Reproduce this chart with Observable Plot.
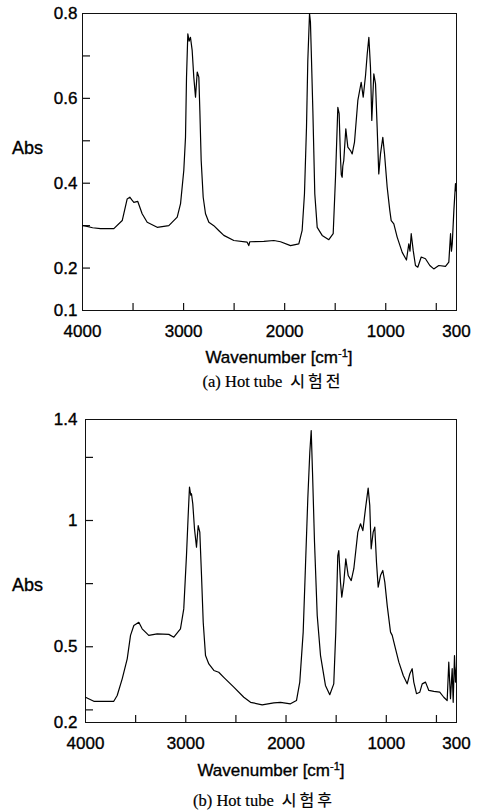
<!DOCTYPE html>
<html>
<head>
<meta charset="utf-8">
<script src="https://cdn.jsdelivr.net/npm/d3@7"></script>
<script src="https://cdn.jsdelivr.net/npm/@observablehq/plot@0.6"></script>
<style>
  html, body { margin: 0; padding: 0; background: white; }
  #wrap { position: relative; width: 478px; height: 811px; overflow: hidden; background: white; }
  .abs { position: absolute; font-family: "Liberation Sans", Arial, sans-serif; font-size: 18px; color: #000; line-height: 1; transform: translate(0, -50%); -webkit-text-stroke: 0.35px #000; }
  .xl { position: absolute; font-family: "Liberation Sans", Arial, sans-serif; font-size: 17px; color: #000; line-height: 1; transform: translate(-50%, -50%); white-space: nowrap; -webkit-text-stroke: 0.35px #000; }
  .xl sup { font-size: 11px; vertical-align: 6px; line-height: 0; }
  .cap { position: absolute; font-family: "Liberation Serif", "Times New Roman", serif; font-size: 16.5px; color: #000; line-height: 1; transform: translate(-50%, -50%); white-space: nowrap; -webkit-text-stroke: 0.2px #000; }
  .cap .ko { font-family: "Noto Sans CJK KR", sans-serif; font-size: 16px; letter-spacing: 3px; margin-left: 8px; }
  svg { position: absolute; left: 0; }
  svg text { stroke: #000; stroke-width: 0.35px; }
</style>
</head>
<body>
<div id="wrap"></div>
<script>
// ---- tick arrays ----
const xTickLabels = [4000, 3000, 2000, 1000, 300];
const xTickMarks = [3500, 3000, 2500, 2000, 1500, 1000, 500];
const yLabelsA = [0.1, 0.2, 0.4, 0.6, 0.8];
const yMarksA = [0.2, 0.3, 0.4, 0.5, 0.6, 0.7];
const yLabelsB = [0.2, 0.5, 1, 1.4];
const yMarksB = [0.25, 0.5, 0.75, 1, 1.25];

// ---- spectrum (a) before test ----
const wnA = [4000,3987,3900,3822,3690,3607,3558,3532,3510,3492,3453,3410,3360,3261,3146,3063,3030,2998,2981,2971,2958,2945,2932,2915,2899,2882,2865,2849,2839,2826,2806,2783,2750,2701,2650,2602,2503,2371,2355,2345,2206,2107,2041,1942,1860,1827,1804,1784,1771,1754,1745,1737,1721,1702,1678,1629,1563,1520,1497,1474,1461,1448,1440,1431,1425,1415,1395,1375,1349,1332,1309,1276,1243,1223,1200,1183,1167,1151,1138,1118,1101,1085,1069,1052,1029,1012,986,960,946,920,887,837,795,772,760,748,728,706,683,649,607,564,525,475,409,376,359,350,342,326,310,300];
const absA = [0.300,0.300,0.295,0.293,0.293,0.312,0.363,0.367,0.360,0.355,0.357,0.328,0.308,0.296,0.300,0.320,0.352,0.430,0.508,0.650,0.752,0.735,0.744,0.713,0.650,0.603,0.662,0.650,0.571,0.454,0.367,0.328,0.308,0.300,0.288,0.277,0.265,0.261,0.253,0.262,0.263,0.265,0.262,0.253,0.257,0.289,0.375,0.532,0.689,0.800,0.780,0.713,0.571,0.375,0.296,0.277,0.267,0.281,0.414,0.579,0.564,0.461,0.420,0.414,0.440,0.454,0.528,0.485,0.477,0.469,0.497,0.595,0.638,0.603,0.654,0.705,0.744,0.673,0.548,0.658,0.634,0.532,0.422,0.469,0.508,0.469,0.391,0.336,0.312,0.304,0.273,0.237,0.219,0.257,0.240,0.281,0.241,0.206,0.202,0.226,0.222,0.206,0.198,0.206,0.204,0.214,0.281,0.240,0.257,0.336,0.399,0.380];

// ---- spectrum (b) after test ----
const wnB = [4000,3917,3718,3684,3634,3584,3551,3518,3468,3435,3369,3285,3169,3119,3053,3020,2993,2976,2963,2950,2943,2930,2913,2893,2876,2860,2843,2826,2803,2770,2720,2671,2621,2521,2421,2354,2238,2122,2055,1956,1896,1863,1829,1806,1783,1763,1749,1736,1716,1689,1656,1607,1564,1524,1504,1484,1474,1457,1444,1424,1404,1380,1350,1324,1284,1257,1234,1208,1181,1165,1151,1131,1115,1098,1081,1058,1035,1015,991,958,941,908,875,831,792,765,742,726,699,666,642,609,576,526,467,427,393,377,360,343,333,320,310,300];
const absB = [0.300,0.284,0.284,0.307,0.373,0.452,0.545,0.584,0.597,0.571,0.545,0.551,0.549,0.538,0.571,0.650,0.861,1.020,1.132,1.100,1.106,1.066,0.967,0.894,0.980,0.954,0.782,0.597,0.465,0.432,0.406,0.399,0.379,0.340,0.300,0.280,0.270,0.278,0.280,0.274,0.287,0.360,0.558,0.822,1.086,1.270,1.356,1.191,0.914,0.624,0.465,0.347,0.310,0.353,0.558,0.861,0.881,0.756,0.696,0.756,0.848,0.782,0.762,0.809,0.954,0.987,0.960,1.046,1.128,1.060,0.888,0.954,0.974,0.835,0.736,0.782,0.802,0.756,0.663,0.558,0.545,0.492,0.439,0.386,0.353,0.393,0.413,0.360,0.314,0.320,0.353,0.360,0.327,0.323,0.320,0.300,0.287,0.439,0.294,0.413,0.280,0.465,0.360,0.420];

const dataA = wnA.map((w, i) => ({w, a: absA[i]}));
const dataB = wnB.map((w, i) => ({w, a: absB[i]}));

function chart({data, yDomain, yLabels, yMarks, marginLeft, height, marginTop, marginBottom, yPad}) {
  const marginRight = 22;
  const innerH = height - marginTop - marginBottom;
  const innerW = 478 - marginLeft - marginRight;
  return Plot.plot({
    width: 478,
    height,
    marginTop, marginBottom, marginLeft, marginRight,
    x: {domain: [4000, 300]},
    y: {domain: yDomain},
    style: {fontFamily: "'Liberation Sans', Arial, sans-serif", fontSize: "17px", color: "black", background: "white", overflow: "visible"},
    marks: [
      Plot.frame({stroke: "#111", strokeWidth: 1}),
      Plot.ruleX(xTickMarks, {x: d => d, insetTop: innerH - 7, stroke: "#111", strokeWidth: 1.2}),
      Plot.ruleY(yMarks, {y: d => d, insetRight: innerW - 8, stroke: "#111", strokeWidth: 1.2}),
      Plot.axisX(xTickLabels, {tickSize: 0, tickPadding: 14, label: null, tickFormat: d => String(d), fontSize: 17}),
      Plot.axisY(yLabels, {tickSize: 0, tickPadding: yPad, label: null, tickFormat: d => String(d), fontSize: 17}),
      Plot.line(data, {x: "w", y: "a", stroke: "#000", strokeWidth: 1.2, clip: true})
    ]
  });
}

const wrap = document.getElementById("wrap");

const svgA = chart({data: dataA, yDomain: [0.1, 0.8], yLabels: yLabelsA, yMarks: yMarksA, marginLeft: 82, height: 345, marginTop: 13, marginBottom: 35, yPad: 5});
svgA.style.top = "0px";
wrap.appendChild(svgA);

const svgB = chart({data: dataB, yDomain: [0.2, 1.4], yLabels: yLabelsB, yMarks: yMarksB, marginLeft: 85, height: 351, marginTop: 13, marginBottom: 35, yPad: 8});
svgB.style.top = "406px";
wrap.appendChild(svgB);

function addDiv(cls, html, left, top) {
  const d = document.createElement("div");
  d.className = cls;
  d.innerHTML = html;
  d.style.left = left + "px";
  d.style.top = top + "px";
  wrap.appendChild(d);
}
addDiv("abs", "Abs", 12, 148);
addDiv("xl", "Wavenumber [cm<sup>-1</sup>]", 279, 357);
addDiv("cap", "(a) Hot tube<span class='ko'>시험전</span>", 273, 381);
addDiv("abs", "Abs", 12, 585);
addDiv("xl", "Wavenumber [cm<sup>-1</sup>]", 271, 770);
addDiv("cap", "(b) Hot tube<span class='ko'>시험후</span>", 264, 800);
</script>
</body>
</html>
